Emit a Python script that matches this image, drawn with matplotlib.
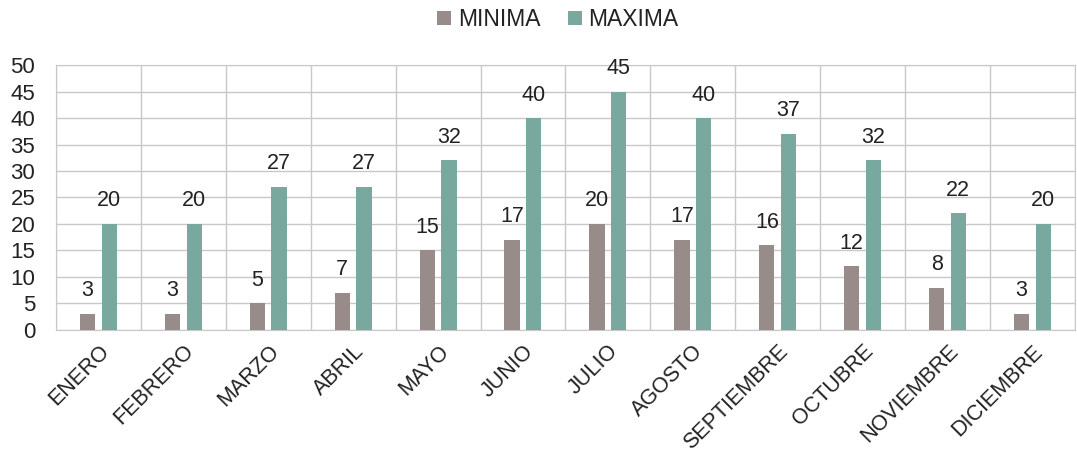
import numpy as np
import matplotlib
matplotlib.use('Agg')
import matplotlib.pyplot as plt

meses = ['ENERO', 'FEBRERO', 'MARZO', 'ABRIL', 'MAYO', 'JUNIO', 'JULIO',
         'AGOSTO', 'SEPTIEMBRE', 'OCTUBRE', 'NOVIEMBRE', 'DICIEMBRE']
minima = [3, 3, 5, 7, 15, 17, 20, 17, 16, 12, 8, 3]
maxima = [20, 20, 27, 27, 32, 40, 45, 40, 37, 32, 22, 20]

plt.rcParams['font.family'] = ['Liberation Sans', 'DejaVu Sans']

fig = plt.figure(figsize=(10.77, 4.55), dpi=100)
ax = fig.add_axes([0.052, 0.275, 0.946, 0.582])

x = np.arange(len(meses))
w = 0.18
b1 = ax.bar(x - 0.128, minima, w, color='#978c8a', label='MINIMA', zorder=3)
b2 = ax.bar(x + 0.128, maxima, w, color='#79a99e', label='MAXIMA', zorder=3)

for rects, vals in [(b1, minima), (b2, maxima)]:
    for r, v in zip(rects, vals):
        ax.annotate(str(v), (r.get_x() + r.get_width() / 2, v),
                    xytext=(0, 9), textcoords='offset points',
                    ha='center', va='bottom', fontsize=15.5, color='#222222')

ax.set_xlim(-0.5, len(meses) - 0.5)
ax.set_ylim(0, 50)
ax.set_yticks(range(0, 51, 5))
ax.set_xticks(x)
ax.set_xticklabels(meses, rotation=45, ha='right', rotation_mode='anchor', fontsize=15.5)
ax.tick_params(axis='y', labelsize=16, length=0, pad=15, labelcolor='#222222')
ax.tick_params(axis='x', length=0, pad=8, labelcolor='#222222')

# gridlines
ax.grid(axis='y', color='#c8c8c8', linewidth=1, zorder=0)
ax.set_xticks(np.arange(-0.5, len(meses), 1), minor=True)
ax.grid(axis='x', which='minor', color='#c8c8c8', linewidth=1, zorder=0)
ax.tick_params(axis='x', which='minor', length=0)
for s in ax.spines.values():
    s.set_color('#c8c8c8')

fig.legend(handles=[b1, b2], loc='upper center', bbox_to_anchor=(0.518, 1.028),
           ncol=2, frameon=False, fontsize=16.5, handlelength=0.6, handleheight=0.6,
           columnspacing=1.2, handletextpad=0.3, labelcolor='#222222')

fig.savefig('out.png', dpi=100)
